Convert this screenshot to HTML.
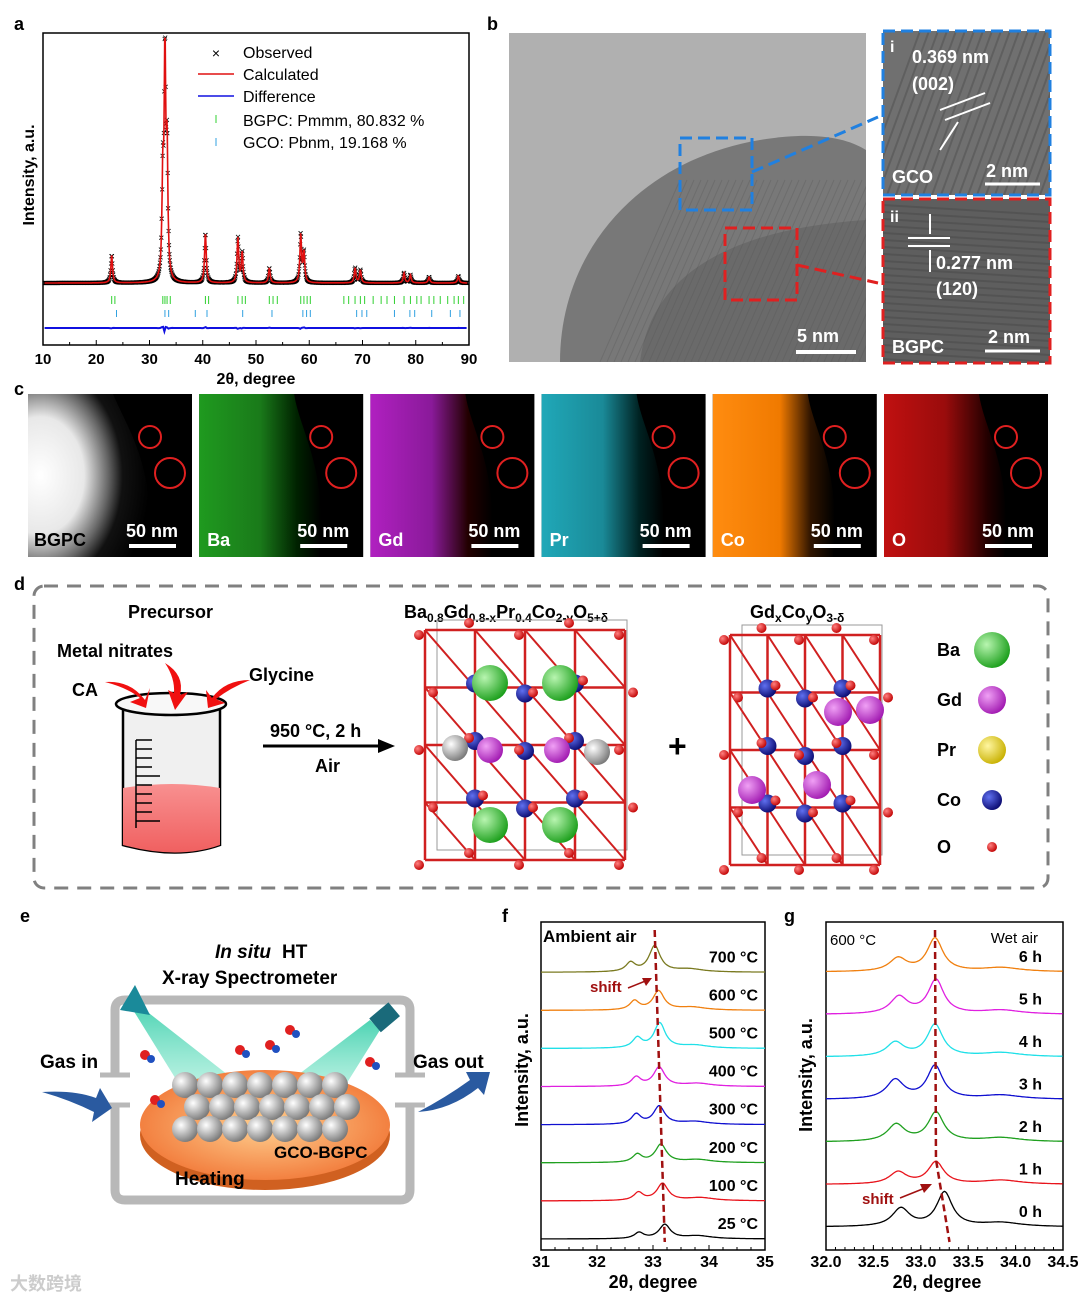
<!DOCTYPE html>
<html><head><meta charset="utf-8"><style>
html,body{margin:0;padding:0;background:#fff;}
svg{display:block;font-family:"Liberation Sans",Arial,sans-serif;}
</style></head><body>
<svg id="fig" width="1080" height="1302" viewBox="0 0 1080 1302" xmlns="http://www.w3.org/2000/svg">
<defs>
<clipPath id="clipMain"><rect x="509" y="33" width="357" height="329"/></clipPath>
<clipPath id="clipI"><rect x="883" y="31" width="167" height="164"/></clipPath>
<clipPath id="clipII"><rect x="883" y="199" width="167" height="164"/></clipPath>
<radialGradient id="tem" cx="0.35" cy="0.75" r="0.8"><stop offset="0" stop-color="#6e6e6e"/><stop offset="0.55" stop-color="#7d7d7d"/><stop offset="0.62" stop-color="#a9a9a9"/><stop offset="1" stop-color="#b9b9b9"/></radialGradient>
<radialGradient id="ballG" cx="0.35" cy="0.35" r="0.7"><stop offset="0" stop-color="#b8f5b0"/><stop offset="1" stop-color="#1a9e1a"/></radialGradient>
<radialGradient id="ballM" cx="0.35" cy="0.35" r="0.7"><stop offset="0" stop-color="#f0a0f5"/><stop offset="1" stop-color="#a018b0"/></radialGradient>
<radialGradient id="ballY" cx="0.35" cy="0.35" r="0.7"><stop offset="0" stop-color="#fff6a0"/><stop offset="1" stop-color="#c8b000"/></radialGradient>
<radialGradient id="ballB" cx="0.35" cy="0.35" r="0.7"><stop offset="0" stop-color="#6070f0"/><stop offset="1" stop-color="#0a0a70"/></radialGradient>
<radialGradient id="ballR" cx="0.35" cy="0.35" r="0.7"><stop offset="0" stop-color="#ff8080"/><stop offset="1" stop-color="#c00000"/></radialGradient>
<radialGradient id="ballS" cx="0.35" cy="0.35" r="0.7"><stop offset="0" stop-color="#ffffff"/><stop offset="1" stop-color="#777"/></radialGradient>
<linearGradient id="mapBa" x1="0" x2="1"><stop offset="0" stop-color="#1f9a1f"/><stop offset="0.5" stop-color="#1a7a1a"/><stop offset="0.8" stop-color="#020"/><stop offset="1" stop-color="#000"/></linearGradient>
<linearGradient id="mapGd" x1="0" x2="1"><stop offset="0" stop-color="#b020c0"/><stop offset="0.5" stop-color="#8a1a9a"/><stop offset="0.8" stop-color="#200"/><stop offset="1" stop-color="#000"/></linearGradient>
<linearGradient id="mapPr" x1="0" x2="1"><stop offset="0" stop-color="#20a8b8"/><stop offset="0.5" stop-color="#1a8a98"/><stop offset="0.8" stop-color="#022"/><stop offset="1" stop-color="#000"/></linearGradient>
<linearGradient id="mapCo" x1="0" x2="1"><stop offset="0" stop-color="#ff8c10"/><stop offset="0.55" stop-color="#f07a00"/><stop offset="0.8" stop-color="#301500"/><stop offset="1" stop-color="#000"/></linearGradient>
<linearGradient id="mapO" x1="0" x2="1"><stop offset="0" stop-color="#c01010"/><stop offset="0.5" stop-color="#9a0c0c"/><stop offset="0.85" stop-color="#200"/><stop offset="1" stop-color="#000"/></linearGradient>
<radialGradient id="mapHA" cx="0.1" cy="0.5" r="0.9"><stop offset="0" stop-color="#fff"/><stop offset="0.4" stop-color="#e8e8e8"/><stop offset="0.62" stop-color="#666"/><stop offset="0.75" stop-color="#111"/><stop offset="1" stop-color="#000"/></radialGradient>
<linearGradient id="liquid" x1="0" y1="0" x2="0" y2="1"><stop offset="0" stop-color="#f89090"/><stop offset="1" stop-color="#f06060"/></linearGradient>
<radialGradient id="plate" cx="0.5" cy="0.5" r="0.6"><stop offset="0" stop-color="#ffd090"/><stop offset="1" stop-color="#f07030"/></radialGradient>
<linearGradient id="beam" x1="0" y1="0" x2="0" y2="1"><stop offset="0" stop-color="#20c8a0"/><stop offset="1" stop-color="#a0f0d8" stop-opacity="0.6"/></linearGradient>
</defs>
<g id="root"></g>
</svg>
<script>
// ===== Panel a data =====
const aPeakPos = [22.9, 32.5, 32.9, 33.3, 40.5, 46.6, 47.4, 52.5, 58.4, 59.0, 68.6, 69.6, 77.8, 79.0, 82.5, 88.0];
const aPeakHeight = [28, 95, 218, 120, 50, 45, 30, 15, 48, 30, 15, 13, 10, 8, 6, 7];
const aXTicks = [10, 20, 30, 40, 50, 60, 70, 80, 90];
const aBgpcTicks = [22.9,23.5,32.5,32.9,33.3,33.9,40.5,41.1,46.6,47.4,48.0,52.5,53.2,54.0,58.4,59.0,59.6,60.2,66.5,67.4,68.6,69.6,70.4,72.0,73.5,74.6,76.0,77.8,79.0,80.2,81.0,82.5,83.4,84.6,86.0,87.2,88.0,89.0];
const aGcoTicks = [23.8,32.9,33.6,38.6,40.8,47.5,53.0,58.8,59.5,60.2,68.9,69.9,70.8,76.0,78.9,79.8,83.0,86.5,88.3];

// ===== Panel f data =====
const fTemps = ["25 °C","100 °C","200 °C","300 °C","400 °C","500 °C","600 °C","700 °C"];
const fPeak1 = [32.75, 32.74, 32.72, 32.70, 32.70, 32.72, 32.67, 32.60];
const fPeak2 = [33.21, 33.17, 33.14, 33.11, 33.11, 33.12, 33.10, 33.03];
const fH1 = [6, 8, 8, 10, 9, 10, 9, 9];
const fH2 = [14, 17, 18, 18, 19, 25, 19, 26];
const fBump = [33.8, 33.85, 33.8, 33.75, 33.8, 33.75, 33.7, 33.65];
const fXTicks = [31, 32, 33, 34, 35];
const fColors = ["#000","#e8141c","#20a020","#1010d0","#e020e0","#20e0e8","#f08010","#7a7a20"];

// ===== Panel g data =====
const gTimes = ["0 h","1 h","2 h","3 h","4 h","5 h","6 h"];
const gPeak1 = [32.79, 32.76, 32.74, 32.73, 32.73, 32.77, 32.76];
const gPeak2 = [33.25, 33.16, 33.16, 33.15, 33.15, 33.16, 33.15];
const gH1 = [18, 12, 17, 19, 14, 17, 13];
const gH2 = [34, 22, 29, 33, 32, 34, 33];
const gXTicks = [32.0, 32.5, 33.0, 33.5, 34.0, 34.5];
const gColors = ["#000","#e8141c","#20a020","#1010d0","#20e0e8","#e020e0","#f08010"];

const NS="http://www.w3.org/2000/svg";
const root=document.getElementById('root');
function el(tag,attrs,parent){const e=document.createElementNS(NS,tag);for(const k in attrs)e.setAttribute(k,attrs[k]);(parent||root).appendChild(e);return e;}
function txt(x,y,s,size,extra,parent){const t=el('text',Object.assign({x:x,y:y,'font-size':size,'font-weight':'bold',fill:'#000'},extra||{}),parent);t.textContent=s;return t;}
function lorentz(x,c,w){return 1/(1+((x-c)/w)*((x-c)/w));}

// ---------- Panel a ----------
const ga=el('g',{});


const aX=v=>43+(v-10)*(426/80);
const aBase=283;
txt(14,30,'a',18,{},ga);
el('rect',{x:43,y:33,width:426,height:312,fill:'none',stroke:'#000','stroke-width':1.5},ga);
function aCurve(x){let s=0;for(let i=0;i<aPeakPos.length;i++)s+=aPeakHeight[i]*lorentz(x,aPeakPos[i],0.18);return s;}
let dObs='',dCalc='';
for(let v=10.3;v<=89.7;v+=0.08){const y=aBase-aCurve(v);dCalc+=(dCalc?'L':'M')+aX(v).toFixed(1)+','+y.toFixed(1);dObs+='M'+(aX(v)-2).toFixed(1)+','+(y-2).toFixed(1)+'l4,4m0,-4l-4,4';}
const obs=el('path',{d:dObs,stroke:'#000','stroke-width':0.8,fill:'none'},ga);


const calc=el('path',{d:dCalc,stroke:'#e01010','stroke-width':1.6,fill:'none'},ga);


let dDiff='';
for(let v=10.3;v<=89.7;v+=0.25){let s=0;for(let i=0;i<aPeakPos.length;i++)s+=(aPeakHeight[i]/40)*Math.sin((v-aPeakPos[i])*20)*lorentz(v,aPeakPos[i],0.15);dDiff+=(dDiff?'L':'M')+aX(v).toFixed(1)+','+(328-s).toFixed(1);}
const diff=el('path',{d:dDiff,stroke:'#1010e0','stroke-width':2,fill:'none'},ga);


aBgpcTicks.forEach(v=>{const t=el('line',{x1:aX(v),x2:aX(v),y1:296,y2:304,stroke:'#30d030','stroke-width':1},ga);});
aGcoTicks.forEach(v=>{const t=el('line',{x1:aX(v),x2:aX(v),y1:310,y2:317,stroke:'#30a0e0','stroke-width':1},ga);});
aXTicks.forEach(v=>{el('line',{x1:aX(v),x2:aX(v),y1:345,y2:340,stroke:'#000'},ga);const t=txt(aX(v),364,String(v),15,{'text-anchor':'middle'},ga);});
for(let v=15;v<90;v+=10)el('line',{x1:aX(v),x2:aX(v),y1:345,y2:342,stroke:'#000'},ga);
const axa=txt(256,384,'2θ, degree',16,{'text-anchor':'middle'},ga);
const aya=txt(34,175,'Intensity, a.u.',16,{'text-anchor':'middle',transform:'rotate(-90 34 175)'},ga);
const lg=el('g',{},ga);
txt(216,58,'×',14,{'font-weight':'normal','text-anchor':'middle'},lg);txt(243,58,'Observed',16,{'font-weight':'normal'},lg);
el('line',{x1:198,x2:234,y1:74,y2:74,stroke:'#e01010','stroke-width':1.5},lg);txt(243,80,'Calculated',16,{'font-weight':'normal'},lg);
el('line',{x1:198,x2:234,y1:96,y2:96,stroke:'#1010e0','stroke-width':1.5},lg);txt(243,102,'Difference',16,{'font-weight':'normal'},lg);
el('line',{x1:216,x2:216,y1:115,y2:123,stroke:'#30d030'},lg);txt(243,126,'BGPC: Pmmm, 80.832 %',16,{'font-weight':'normal'},lg);
el('line',{x1:216,x2:216,y1:138,y2:146,stroke:'#30a0e0'},lg);txt(243,148,'GCO: Pbnm, 19.168 %',16,{'font-weight':'normal'},lg);

// ---------- Panel b ----------
const gb=el('g',{});
txt(487,30,'b',18,{},gb);
const gbm=el('g',{'clip-path':'url(#clipMain)'},gb);
el('rect',{x:509,y:33,width:357,height:329,fill:'#b0b0b0'},gbm);
el('path',{d:'M560,362 C560,250 640,160 760,140 C820,130 850,140 866,150 L866,362 Z',fill:'#787878'},gbm);
el('path',{d:'M640,362 C650,280 720,230 866,220 L866,362 Z',fill:'#6a6a6a'},gbm);
for(let i=0;i<40;i++){el('line',{x1:600+i*7,y1:362,x2:680+i*7,y2:180,stroke:'#555','stroke-width':1,opacity:0.3},gbm);}
el('rect',{x:680,y:138,width:72,height:72,fill:'none',stroke:'#2080e0','stroke-width':3,'stroke-dasharray':'12,6'},gb);
el('rect',{x:725,y:228,width:72,height:72,fill:'none',stroke:'#e02020','stroke-width':3,'stroke-dasharray':'12,6'},gb);
el('line',{x1:752,y1:172,x2:878,y2:117,stroke:'#2080e0','stroke-width':3,'stroke-dasharray':'12,6'},gb);
el('line',{x1:797,y1:265,x2:878,y2:283,stroke:'#e02020','stroke-width':3,'stroke-dasharray':'12,6'},gb);
el('line',{x1:796,y1:352,x2:856,y2:352,stroke:'#fff','stroke-width':4},gb);txt(797,342,'5 nm',18,{fill:'#fff'},gb);
const gi=el('g',{'clip-path':'url(#clipI)'},gb);
const gii=el('g',{'clip-path':'url(#clipII)'},gb);
el('rect',{x:883,y:31,width:167,height:164,fill:'#707070'},gi);
el('rect',{x:883,y:199,width:167,height:164,fill:'#5e5e5e'},gii);
for(let i=0;i<26;i++){el('line',{x1:860+i*9,y1:195,x2:860+i*9+60,y2:31,stroke:'#505050','stroke-width':2,opacity:0.5},gi);el('line',{x1:883,y1:205+i*7,x2:1050,y2:215+i*7,stroke:'#4a4a4a','stroke-width':2,opacity:0.5},gii);}
el('rect',{x:883,y:31,width:167,height:164,fill:'none',stroke:'#2080e0','stroke-width':3,'stroke-dasharray':'12,6'},gb);
el('rect',{x:883,y:199,width:167,height:164,fill:'none',stroke:'#e02020','stroke-width':3,'stroke-dasharray':'12,6'},gb);
txt(890,52,'i',16,{fill:'#fff'},gb);txt(912,63,'0.369 nm',18,{fill:'#fff'},gb);txt(912,90,'(002)',18,{fill:'#fff'},gb);
el('line',{x1:940,y1:110,x2:985,y2:93,stroke:'#fff','stroke-width':2},gb);el('line',{x1:945,y1:120,x2:990,y2:103,stroke:'#fff','stroke-width':2},gb);
el('line',{x1:940,y1:150,x2:958,y2:122,stroke:'#fff','stroke-width':2},gb);
txt(892,183,'GCO',18,{fill:'#fff'},gb);txt(986,177,'2 nm',18,{fill:'#fff'},gb);el('line',{x1:985,y1:184,x2:1040,y2:184,stroke:'#fff','stroke-width':3},gb);
txt(890,222,'ii',16,{fill:'#fff'},gb);
el('line',{x1:908,y1:238,x2:950,y2:238,stroke:'#fff','stroke-width':2},gb);el('line',{x1:908,y1:246,x2:950,y2:246,stroke:'#fff','stroke-width':2},gb);
el('line',{x1:930,y1:214,x2:930,y2:234,stroke:'#fff','stroke-width':2},gb);el('line',{x1:930,y1:250,x2:930,y2:272,stroke:'#fff','stroke-width':2},gb);
txt(936,269,'0.277 nm',18,{fill:'#fff'},gb);txt(936,295,'(120)',18,{fill:'#fff'},gb);
txt(892,353,'BGPC',18,{fill:'#fff'},gb);txt(988,343,'2 nm',18,{fill:'#fff'},gb);el('line',{x1:985,y1:351,x2:1040,y2:351,stroke:'#fff','stroke-width':3},gb);

// ---------- Panel c ----------
const gc=el('g',{});
txt(14,395,'c',18,{},gc);
const cMaps=[['BGPC','url(#mapHA)'],['Ba','url(#mapBa)'],['Gd','url(#mapGd)'],['Pr','url(#mapPr)'],['Co','url(#mapCo)'],['O','url(#mapO)']];
cMaps.forEach((m,i)=>{const x=28+i*171.2;const g=el('g',{},gc);
el('rect',{x:x,y:394,width:164,height:163,fill:'#000'},g);
el('path',{d:`M${x},394 L${x+(i==0?85:95)},394 C${x+100},430 ${x+130},470 ${x+120},557 L${x},557 Z`,fill:m[1]},g);
el('circle',{cx:x+122,cy:437,r:11,fill:'none',stroke:'#e02020','stroke-width':2},g);el('circle',{cx:x+142,cy:473,r:15,fill:'none',stroke:'#e02020','stroke-width':2},g);
txt(x+(i==0?6:8),546,m[0],18,{fill:i==0?'#000':'#fff'},g);txt(x+98,537,'50 nm',18,{fill:'#fff'},g);el('line',{x1:x+101,x2:x+148,y1:546,y2:546,stroke:'#fff','stroke-width':4},g);});

// ---------- Panel d ----------
const gd=el('g',{});
txt(14,590,'d',18,{},gd);
el('rect',{x:34,y:586,width:1014,height:302,rx:10,fill:'none',stroke:'#808080','stroke-width':3,'stroke-dasharray':'14,9'},gd);
txt(128,618,'Precursor',18,{},gd);txt(57,657,'Metal nitrates',18,{},gd);txt(72,696,'CA',18,{},gd);txt(249,681,'Glycine',18,{},gd);
el('path',{d:'M123,705 L123,845 Q178,860 220,845 L220,705 Z',fill:'#f0f0f0',stroke:'#000','stroke-width':2.5},gd);
el('path',{d:'M123,788 Q172,780 220,788 L220,845 Q178,860 123,845 Z',fill:'url(#liquid)'},gd);
el('ellipse',{cx:171,cy:704,rx:55,ry:11,fill:'#f8f8f8',stroke:'#000','stroke-width':2.5},gd);
for(let i=0;i<10;i++)el('line',{x1:136,x2:i%5==4?160:152,y1:740+i*9,y2:740+i*9,stroke:'#000','stroke-width':1.5},gd);
el('line',{x1:136,x2:136,y1:740,y2:828,stroke:'#000','stroke-width':1.5},gd);
el('path',{d:'M105,682 Q130,680 145,700 L150,688 L146,708 L130,702 L140,698 Q128,688 105,682Z',fill:'#f01010'},gd);
el('path',{d:'M165,663 Q185,675 180,695 L188,692 L175,710 L168,690 L174,693 Q175,678 165,663Z',fill:'#f01010'},gd);
el('path',{d:'M250,680 Q225,680 212,698 L206,690 L208,708 L225,703 L216,699 Q230,688 250,680Z',fill:'#f01010'},gd);
txt(270,737,'950 °C, 2 h',18,{},gd);txt(315,772,'Air',18,{},gd);
el('line',{x1:263,x2:380,y1:746,y2:746,stroke:'#000','stroke-width':3},gd);el('path',{d:'M378,739 L395,746 L378,753 Z',fill:'#000'},gd);
const t1=txt(404,618,'Ba',18,{},gd);
t1.innerHTML='Ba<tspan font-size="12" dy="4">0.8</tspan><tspan dy="-4">Gd</tspan><tspan font-size="12" dy="4">0.8-x</tspan><tspan dy="-4">Pr</tspan><tspan font-size="12" dy="4">0.4</tspan><tspan dy="-4">Co</tspan><tspan font-size="12" dy="4">2-y</tspan><tspan dy="-4">O</tspan><tspan font-size="12" dy="4">5+δ</tspan>';
const t2=txt(750,618,'Gd',18,{},gd);
t2.innerHTML='Gd<tspan font-size="12" dy="4">x</tspan><tspan dy="-4">Co</tspan><tspan font-size="12" dy="4">y</tspan><tspan dy="-4">O</tspan><tspan font-size="12" dy="4">3-δ</tspan>';
function crystal(cx,cy,w,h){const g=el('g',{},gd);
 el('rect',{x:cx-w/2+12,y:cy-h/2-10,width:w-10,height:h,fill:'none',stroke:'#999','stroke-width':1},g);
 for(let i=0;i<=4;i++){el('line',{x1:cx-w/2+i*w/4,x2:cx-w/2+i*w/4,y1:cy-h/2,y2:cy+h/2,stroke:'#d02020','stroke-width':2.5},g);el('line',{y1:cy-h/2+i*h/4,y2:cy-h/2+i*h/4,x1:cx-w/2,x2:cx+w/2,stroke:'#d02020','stroke-width':2.5},g);}
 for(let i=0;i<4;i++)for(let j=0;j<4;j++){el('line',{x1:cx-w/2+i*w/4,y1:cy-h/2+j*h/4,x2:cx-w/2+(i+1)*w/4,y2:cy-h/2+(j+1)*h/4,stroke:'#d02020','stroke-width':2},g);}
 for(let i=0;i<3;i++)for(let j=0;j<3;j++)el('circle',{cx:cx-w/4+i*w/4,cy:cy-h/4+j*h/4+(i%2?6:-4),r:9,fill:'url(#ballB)'},g);
 for(let i=0;i<5;i++)for(let j=0;j<5;j++)el('circle',{cx:cx-w/2+i*w/4+(j%2?8:-6),cy:cy-h/2+j*h/4+(i%2?-7:5),r:5,fill:'url(#ballR)'},g);
 return g;}
const c1=crystal(525,745,200,230);
[[490,683],[560,683],[490,825],[560,825]].forEach(p=>el('circle',{cx:p[0],cy:p[1],r:18,fill:'url(#ballG)'},c1));
[[455,748],[597,752]].forEach(p=>el('circle',{cx:p[0],cy:p[1],r:13,fill:'url(#ballS)'},c1));
[[490,750],[557,750]].forEach(p=>el('circle',{cx:p[0],cy:p[1],r:13,fill:'url(#ballM)'},c1));
const c2=crystal(805,750,150,230);
[[838,712],[870,710],[752,790],[817,785]].forEach(p=>el('circle',{cx:p[0],cy:p[1],r:14,fill:'url(#ballM)'},c2));
txt(668,757,'+',32,{},gd);
const legD=[['Ba','url(#ballG)',18,650],['Gd','url(#ballM)',14,700],['Pr','url(#ballY)',14,750],['Co','url(#ballB)',10,800],['O','url(#ballR)',5,847]];
legD.forEach(l=>{txt(937,l[3]+6,l[0],18,{},gd);el('circle',{cx:992,cy:l[3],r:l[2],fill:l[1]},gd);});

// ---------- Panel e ----------
const ge=el('g',{});
txt(20,922,'e',18,{},ge);
txt(215,958,'In situ',19,{'font-style':'italic'},ge);txt(282,958,'HT',19,{},ge);txt(162,984,'X-ray Spectrometer',19,{},ge);
el('path',{d:'M115,1075 L115,1010 Q115,1000 125,1000 L400,1000 Q410,1000 410,1010 L410,1075 M115,1105 L115,1190 Q115,1200 125,1200 L400,1200 Q410,1200 410,1190 L410,1105',fill:'none',stroke:'#b8b8b8','stroke-width':9},ge);
el('line',{x1:100,x2:130,y1:1075,y2:1075,stroke:'#b8b8b8','stroke-width':5},ge);el('line',{x1:100,x2:130,y1:1105,y2:1105,stroke:'#b8b8b8','stroke-width':5},ge);
el('line',{x1:395,x2:425,y1:1075,y2:1075,stroke:'#b8b8b8','stroke-width':5},ge);el('line',{x1:395,x2:425,y1:1105,y2:1105,stroke:'#b8b8b8','stroke-width':5},ge);
el('path',{d:'M130,1005 L145,1010 L260,1100 L195,1110 Z',fill:'url(#beam)',opacity:0.8},ge);
el('path',{d:'M380,1030 L370,1020 L265,1100 L330,1110 Z',fill:'url(#beam)',opacity:0.8},ge);
el('path',{d:'M120,1010 L135,985 L150,1015 Z',fill:'#1a8a9a'},ge);
el('rect',{x:372,y:1008,width:25,height:18,fill:'#1a6a7a',transform:'rotate(-40 385 1017)'},ge);
el('ellipse',{cx:265,cy:1135,rx:125,ry:55,fill:'#d06020'},ge);
el('ellipse',{cx:265,cy:1125,rx:125,ry:55,fill:'url(#plate)'},ge);
for(let i=0;i<7;i++)for(let j=0;j<3;j++)el('circle',{cx:185+i*25+(j%2)*12,cy:1085+j*22,r:13,fill:'url(#ballS)'},ge);
txt(40,1068,'Gas in',19,{},ge);txt(413,1068,'Gas out',19,{},ge);txt(274,1158,'GCO-BGPC',17,{},ge);txt(175,1185,'Heating',19,{},ge);
el('path',{d:'M42,1092 Q75,1090 96,1098 L100,1088 L112,1108 L92,1122 L94,1112 Q70,1100 42,1092Z',fill:'#2a5aa0'},ge);
el('path',{d:'M418,1112 Q445,1098 470,1080 L466,1072 L490,1072 L484,1095 L478,1088 Q450,1110 418,1112Z',fill:'#2a5aa0'},ge);
[[240,1050],[270,1045],[290,1030],[145,1055],[370,1062],[155,1100]].forEach(p=>{el('circle',{cx:p[0],cy:p[1],r:5,fill:'#e02020'},ge);el('circle',{cx:p[0]+6,cy:p[1]+4,r:4,fill:'#2050c0'},ge);});
txt(10,1290,'大数跨境',18,{fill:'#ccc','font-family':'"Liberation Sans","Noto Sans CJK SC",sans-serif'},ge);

// ---------- Panel f ----------
const gf=el('g',{});
const fL=541,fR=765,fT=922,fB=1250;
const fX=v=>fL+(v-31)*(fR-fL)/4;
const fBase=i=>1239-i*38.1;
txt(502,922,'f',18,{},gf);
el('rect',{x:fL,y:fT,width:fR-fL,height:fB-fT,fill:'none',stroke:'#000','stroke-width':1.5},gf);
fTemps.forEach((t,i)=>{let d='';for(let v=31;v<=35.001;v+=0.02){const y=fBase(i)-fH1[i]*lorentz(v,fPeak1[i],0.1)-fH2[i]*lorentz(v,fPeak2[i],0.12)-3*lorentz(v,fBump[i],0.3);d+=(d?'L':'M')+fX(v).toFixed(1)+','+y.toFixed(1);}
 const p=el('path',{d:d,stroke:fColors[i],'stroke-width':1.3,fill:'none'},gf);
 
 
 const l=txt(758,fBase(i)-10,t,16,{'text-anchor':'end'},gf);
 
 });
el('line',{x1:fX(fPeak2[7]),y1:930,x2:fX(fPeak2[0]),y2:1242,stroke:'#a01010','stroke-width':2.5,'stroke-dasharray':'7,4'},gf);
txt(590,992,'shift',15,{fill:'#a01010'},gf);el('line',{x1:628,y1:988,x2:648,y2:980,stroke:'#a01010','stroke-width':1.5},gf);el('path',{d:'M652,978 L642,978 L646,986 Z',fill:'#a01010'},gf);
txt(543,942,'Ambient air',17,{},gf);
fXTicks.forEach(v=>{el('line',{x1:fX(v),x2:fX(v),y1:fB,y2:fB-5,stroke:'#000'},gf);const t=txt(fX(v),1267,String(v),16,{'text-anchor':'middle'},gf);});
for(let v=31.25;v<35;v+=0.25)el('line',{x1:fX(v),x2:fX(v),y1:fB,y2:fB-3,stroke:'#000'},gf);
txt(653,1288,'2θ, degree',18,{'text-anchor':'middle'},gf);
txt(528,1070,'Intensity, a.u.',18,{'text-anchor':'middle',transform:'rotate(-90 528 1070)'},gf);

// ---------- Panel g ----------
const gg=el('g',{});
const gL=826,gR=1063,gT=922,gB=1250;
const gX=v=>gL+(v-32)*(gR-gL)/2.5;
const gBase=i=>1227-i*42.5;
txt(784,922,'g',18,{},gg);
el('rect',{x:gL,y:gT,width:gR-gL,height:gB-gT,fill:'none',stroke:'#000','stroke-width':1.5},gg);
gTimes.forEach((t,i)=>{let d='';for(let v=32;v<=34.501;v+=0.012){const y=gBase(i)-gH1[i]*lorentz(v,gPeak1[i],0.11)-gH2[i]*lorentz(v,gPeak2[i],0.1)-4*lorentz(v,33.85,0.25);d+=(d?'L':'M')+gX(v).toFixed(1)+','+y.toFixed(1);}
 const p=el('path',{d:d,stroke:gColors[i],'stroke-width':1.3,fill:'none'},gg);
 
 
 const l=txt(1042,gBase(i)-10,t,16,{'text-anchor':'end'},gg);
 
 });
el('path',{d:`M${gX(gPeak2[6])},930 L${gX(gPeak2[1])},${gBase(1)-25} L${gX(gPeak2[0])+5},1242`,stroke:'#a01010','stroke-width':2.5,'stroke-dasharray':'7,4',fill:'none'},gg);
txt(862,1204,'shift',15,{fill:'#a01010'},gg);el('line',{x1:900,y1:1198,x2:925,y2:1188,stroke:'#a01010','stroke-width':1.5},gg);el('path',{d:'M932,1184 L920,1184 L924,1193 Z',fill:'#a01010'},gg);
txt(830,945,'600 °C',15,{'font-weight':'normal'},gg);txt(1038,943,'Wet air',15,{'font-weight':'normal','text-anchor':'end'},gg);
gXTicks.forEach(v=>{el('line',{x1:gX(v),x2:gX(v),y1:gB,y2:gB-5,stroke:'#000'},gg);const t=txt(gX(v),1267,v.toFixed(1),16,{'text-anchor':'middle'},gg);});
for(let v=32.1;v<34.5;v+=0.1)el('line',{x1:gX(v),x2:gX(v),y1:gB,y2:gB-3,stroke:'#000'},gg);
txt(937,1288,'2θ, degree',18,{'text-anchor':'middle'},gg);
txt(812,1075,'Intensity, a.u.',18,{'text-anchor':'middle',transform:'rotate(-90 812 1075)'},gg);
</script>
</body></html>
